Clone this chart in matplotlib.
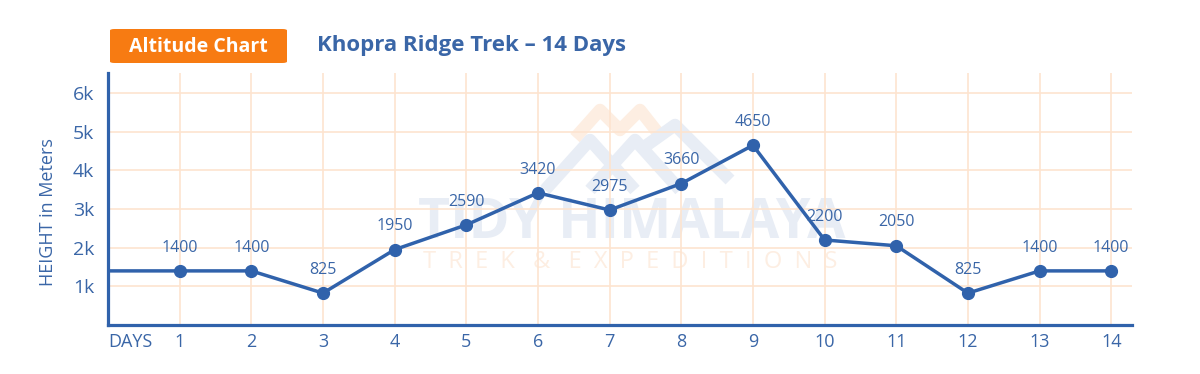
import matplotlib.pyplot as plt
from matplotlib.patches import FancyBboxPatch

# --- data ---
days = [1, 2, 3, 4, 5, 6, 7, 8, 9, 10, 11, 12, 13, 14]
altitude_m = [1400, 1400, 825, 1950, 2590, 3420, 2975, 3660, 4650, 2200, 2050, 825, 1400, 1400]
start_day = 0
start_altitude_m = 1400
y_ticks = [1000, 2000, 3000, 4000, 5000, 6000]
y_tick_labels = ["1k", "2k", "3k", "4k", "5k", "6k"]
x_tick_labels = ["DAYS"] + [str(d) for d in days]

title = "Khopra Ridge Trek – 14 Days"
badge = "Altitude Chart"

BLUE = "#3062ab"
TEXT_BLUE = "#3a66a7"
ORANGE = "#f77b12"
GRID = "#fde4cf"

plt.rcParams["font.family"] = ["Open Sans", "DejaVu Sans"]

fig = plt.figure(figsize=(12, 3.74), dpi=100)
ax = fig.add_axes([108 / 1200, 1 - 325 / 374, (1132 - 108) / 1200, (325 - 73) / 374])
ax.set_zorder(2)
ax.set_facecolor("none")

# --- watermark (behind the axes) ---
wm_blue = "#e8edf5"
wm_orange = "#fdeee2"
fig.text(632 / 1200, 1 - 223 / 374, "TIDY HIMALAYA", fontsize=40, fontweight="bold",
         color=wm_blue, ha="center", va="center", zorder=0)
fig.text(630 / 1200, 1 - 262 / 374, "T  R  E  K   &   E  X  P  E  D  I  T  I  O  N  S", fontsize=17,
         color=wm_orange, ha="center", va="center", zorder=0)


def px(xs, ys):
    return [x / 1200 for x in xs], [1 - y / 374 for y in ys]


for xs, ys, c in [
    ([575, 600, 620, 640, 662], [138, 110, 130, 110, 138], wm_orange),
    ([545, 590, 635], [190, 140, 190], wm_blue),
    ([590, 635, 680], [190, 140, 190], wm_blue),
    ([640, 675, 730], [150, 125, 180], wm_blue),
]:
    fx, fy = px(xs, ys)
    fig.add_artist(plt.Line2D(fx, fy, color=c, lw=9, solid_capstyle="butt", zorder=0))

# --- line ---
ax.plot([start_day] + days, [start_altitude_m] + altitude_m, color=BLUE, lw=2.5, zorder=3)
ax.plot(days, altitude_m, "o", color=BLUE, ms=8.5, zorder=4)
for d, a in zip(days, altitude_m):
    ax.annotate(f"{a}", (d, a), xytext=(0, 11), textcoords="offset points",
                ha="center", va="bottom", fontsize=11.5, color=TEXT_BLUE)

# --- axes ---
ax.set_xlim(0, 14.29)
ax.set_ylim(0, 6520)
ax.set_xticks([start_day] + days)
ax.set_xticklabels(x_tick_labels)
ax.get_xticklabels()[0].set_horizontalalignment("left")
ax.set_yticks(y_ticks)
ax.set_yticklabels(y_tick_labels)
ax.tick_params(axis="both", length=0, labelcolor=TEXT_BLUE)
ax.tick_params(axis="x", pad=6, labelsize=13)
ax.tick_params(axis="y", pad=10, labelsize=14)

ax.grid(True, color=GRID, lw=1.2, zorder=1)
ax.set_axisbelow(True)
for s in ["top", "right"]:
    ax.spines[s].set_visible(False)
for s in ["left", "bottom"]:
    ax.spines[s].set_color(BLUE)
    ax.spines[s].set_linewidth(2.3)
    ax.spines[s].set_zorder(5)

fig.text(48 / 1200, 1 - 212 / 374, "HEIGHT in Meters", rotation=90, fontsize=13,
         color=TEXT_BLUE, ha="center", va="center")

# --- header ---
box = FancyBboxPatch((110 / 1200, 1 - 63 / 374), (287 - 110) / 1200, (63 - 29) / 374,
                     boxstyle="round,pad=0,rounding_size=0.004", transform=fig.transFigure,
                     facecolor=ORANGE, edgecolor="none")
fig.add_artist(box)
fig.text(198 / 1200, 1 - 46.5 / 374, badge, fontsize=14, fontweight="bold",
         color="white", ha="center", va="center")
fig.text(317 / 1200, 1 - 46 / 374, title, fontsize=16, fontweight="bold",
         color=TEXT_BLUE, ha="left", va="center")

fig.savefig("out.png", dpi=100)
